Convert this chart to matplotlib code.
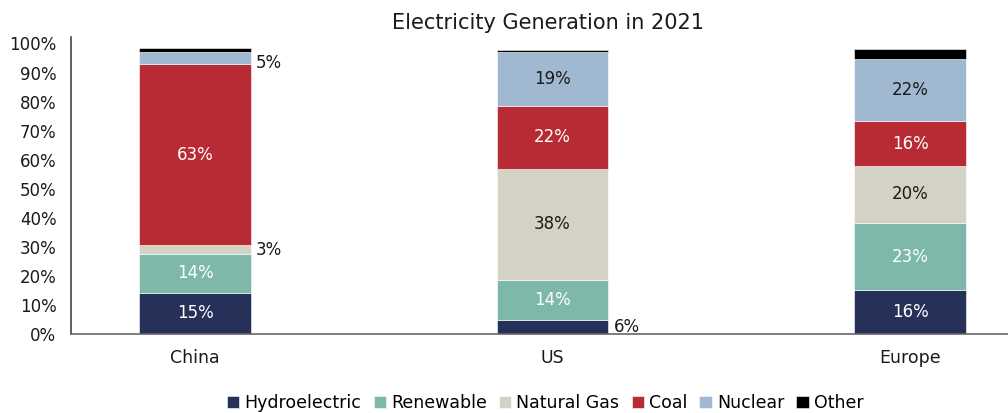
import matplotlib
matplotlib.use('Agg')
import matplotlib.pyplot as plt
import numpy as np

regions = ['China', 'US', 'Europe']
sources = ['Hydroelectric', 'Renewable', 'Natural Gas', 'Coal', 'Nuclear', 'Other']

# segment heights (% of total)
hydro = [14.3, 4.7, 15.1]
renewable = [13.2, 14.0, 23.2]
natural_gas = [3.2, 38.1, 19.5]
coal = [62.1, 21.8, 15.4]
nuclear = [4.4, 18.5, 21.6]
other = [1.1, 0.8, 3.4]

# printed labels
hydro_lbl = ['15%', '6%', '16%']
renewable_lbl = ['14%', '14%', '23%']
gas_lbl = ['3%', '38%', '20%']
coal_lbl = ['63%', '22%', '16%']
nuclear_lbl = ['5%', '19%', '22%']

colors = ['#253159', '#7db8ab', '#d4d1c5', '#b82b35', '#a1b8d1', '#000000']
text_colors = ['white', 'white', '#1a1a1a', 'white', '#1a1a1a', None]

plt.rcParams['font.family'] = ['DejaVu Sans']

fig = plt.figure(figsize=(10.08, 4.13), dpi=100)
ax = fig.add_axes([0.0704, 0.191, 0.9296, 0.72])

x = np.arange(len(regions))
width = 0.313
series = [hydro, renewable, natural_gas, coal, nuclear, other]
labels = [hydro_lbl, renewable_lbl, gas_lbl, coal_lbl, nuclear_lbl, None]

bottom = np.zeros(len(regions))
for i, (vals, name) in enumerate(zip(series, sources)):
    vals = np.array(vals)
    ax.bar(x, vals, width, bottom=bottom, color=colors[i], label=name,
           edgecolor='white', linewidth=0.4)
    if labels[i] is not None:
        for j in range(len(regions)):
            mid = bottom[j] + vals[j] / 2
            if vals[j] < 6:
                # small slices get their label beside the bar
                dy = -1.6 if name == 'Nuclear' else 0.0
                ax.text(x[j] + width / 2 + 0.014, mid + dy, labels[i][j],
                        ha='left', va='center', fontsize=12, color='#1a1a1a')
            else:
                ax.text(x[j], mid, labels[i][j], ha='center', va='center',
                        fontsize=12, color=text_colors[i])
    bottom += vals

ax.set_xlim(-0.347, 2.274)
ax.set_ylim(0, 102.3)
ax.set_yticks(np.arange(0, 101, 10))
ax.set_yticklabels([f'{v}%' for v in range(0, 101, 10)], fontsize=12, color='#1a1a1a')
ax.set_xticks(x)
ax.set_xticklabels(regions, fontsize=12.5, color='#1a1a1a')
ax.tick_params(axis='both', length=0)
ax.tick_params(axis='x', pad=11)
ax.tick_params(axis='y', pad=10.5)

ax.spines['top'].set_visible(False)
ax.spines['right'].set_visible(False)
ax.spines['left'].set_color('#444444')
ax.spines['bottom'].set_color('#666666')
ax.spines['left'].set_linewidth(1.2)
ax.spines['bottom'].set_linewidth(1.2)

fig.text(0.544, 0.945, 'Electricity Generation in 2021', ha='center', va='center',
         fontsize=15, color='#1a1a1a')

fig.legend(loc='center', bbox_to_anchor=(0.541, 0.024), ncol=6, frameon=False,
           fontsize=12.5, handlelength=0.7, handleheight=0.7, handletextpad=0.3,
           columnspacing=0.7, borderaxespad=0)

fig.savefig('out.png', dpi=100)
